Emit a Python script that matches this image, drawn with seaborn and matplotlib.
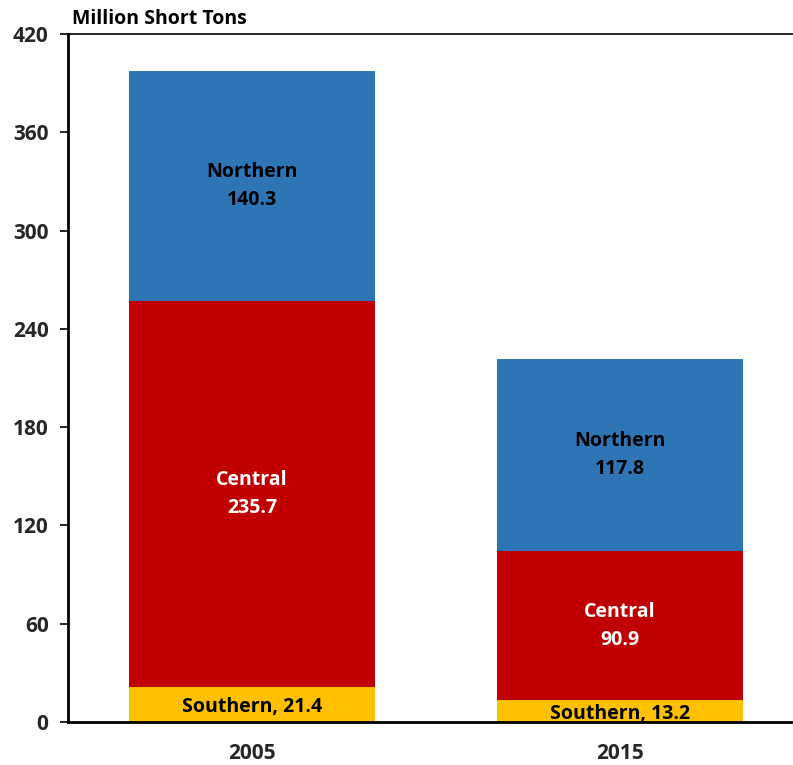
import matplotlib
matplotlib.use("Agg")
import matplotlib.pyplot as plt
import seaborn as sns
import numpy as np
import pandas as pd

years = ["2005", "2015"]
southern = [21.4, 13.2]
central = [235.7, 90.9]
northern = [140.3, 117.8]
yticks = [0, 60, 120, 180, 240, 300, 360, 420]

sns.set_theme(style="white")
plt.rcParams['font.family'] = ['Open Sans', 'DejaVu Sans']
plt.rcParams['font.weight'] = 'bold'

FS = 14
TFS = 15

s = np.array(southern)
c = np.array(central)
n = np.array(northern)
df = pd.DataFrame({"year": years, "south": s, "sc": s + c, "total": s + c + n})

fig = plt.figure(figsize=(7.93, 7.65), dpi=100)
ax = fig.add_axes([68/793, 43/765, 725/793, 688/765])

w = 0.667
sns.barplot(data=df, x="year", y="total", color="#2E75B6", width=w, saturation=1, ax=ax, linewidth=0)
sns.barplot(data=df, x="year", y="sc", color="#C00000", width=w, saturation=1, ax=ax, linewidth=0)
sns.barplot(data=df, x="year", y="south", color="#FFC000", width=w, saturation=1, ax=ax, linewidth=0)

ax.set_xlim(-0.5, 1.47)
ax.set_ylim(0, 420)
ax.set_yticks(yticks)
ax.set_yticklabels([str(t) for t in yticks], fontsize=TFS, fontweight='bold')
ax.set_xticks([0, 1])
ax.set_xticklabels(years, fontsize=TFS, fontweight='bold')
ax.set_xlabel("")
ax.set_ylabel("")
ax.tick_params(axis='y', direction='out', length=6, width=1.2, color='black', pad=8, left=True)
ax.tick_params(axis='x', length=0, pad=15)

for side in ['left', 'bottom', 'top']:
    ax.spines[side].set_visible(True)
    ax.spines[side].set_color('black')
ax.spines['left'].set_linewidth(2)
ax.spines['bottom'].set_linewidth(2)
ax.spines['top'].set_linewidth(1.2)
ax.spines['right'].set_visible(False)

for i in range(len(years)):
    ax.text(i, s[i] / 2 - 1.5, f"Southern, {southern[i]}", ha='center', va='center',
            fontsize=FS, fontweight='bold', color='black')
    ax.text(i, s[i] + c[i] / 2, f"Central\n{central[i]}", ha='center', va='center',
            fontsize=FS, fontweight='bold', color='white', linespacing=1.5)
    ax.text(i, s[i] + c[i] + n[i] / 2, f"Northern\n{northern[i]}", ha='center', va='center',
            fontsize=FS, fontweight='bold', color='black', linespacing=1.5)

fig.text(72/793, 1 - 19/765, "Million Short Tons", ha='left', va='center',
         fontsize=FS, fontweight='bold', color='black')

fig.savefig("out.png", dpi=100)
